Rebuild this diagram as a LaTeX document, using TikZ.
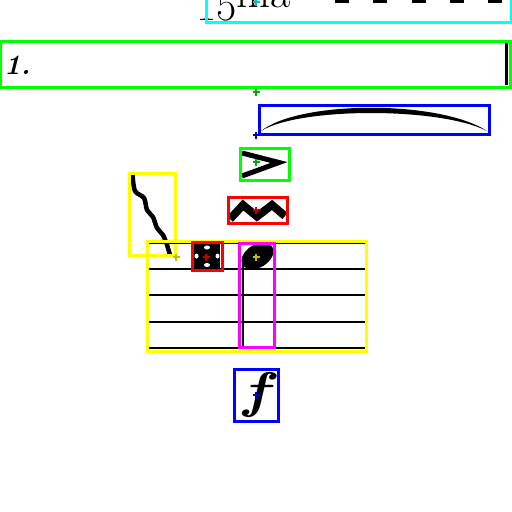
\documentclass[tikz,border=0pt]{standalone}
\usetikzlibrary{positioning}
\definecolor{boxgreen}{RGB}{0,255,0}
\definecolor{boxblue}{RGB}{0,0,255}
\definecolor{boxred}{RGB}{255,0,0}
\definecolor{boxyellow}{RGB}{255,255,0}
\definecolor{boxmagenta}{RGB}{255,0,255}
\definecolor{boxcyan}{RGB}{0,255,255}
\definecolor{mkgreen}{RGB}{0,170,0}
\definecolor{mkblue}{RGB}{0,0,200}
\definecolor{mkred}{RGB}{200,0,0}
\definecolor{mkyellow}{RGB}{190,190,0}
\definecolor{mkcyan}{RGB}{0,190,190}
\begin{document}
\begin{tikzpicture}[
    x=1pt, y=-1pt,
    box/.style={draw, line width=3pt},
    staffline/.style={line width=2.4pt},
    plus/.pic={\draw[line width=1.7pt] (-3.5,0) -- (3.5,0) (0,-3.5) -- (0,3.5);}
]
    \useasboundingbox (0,0) rectangle (512,512);
    \clip (0,0) rectangle (512,512);

    % Ottava text
    \node [anchor=base west, inner sep=0pt] (ottava) at (196,20) {\fontsize{44}{44}\selectfont 15\raisebox{13pt}{ma}};
    \foreach \x in {335,373,412,450,488}
        \draw [line width=2.2pt] (\x,1.5) -- ++(14,0);
    \draw [box, boxcyan] (206,-10) rectangle (511,22);

    % Volta bracket
    \draw [line width=2pt] (0,42) -- (506,42);
    \draw [line width=3pt] (506,41) -- (506,85);
    \node [anchor=base west, inner sep=0pt] (volta) at (4,74.5) {\fontsize{28}{28}\selectfont\bfseries\itshape 1.};
    \draw [box, boxgreen] (0,41) rectangle (510,87);

    % Slur
    \fill (261,131) .. controls (300,100) and (440,100) .. (487,131)
                    .. controls (440,107) and (300,107) .. (261,131);
    \draw [box, boxblue] (259,105) rectangle (489,134);

    % Accent
    \draw [line width=5pt, miter limit=4] (242,153) -- (279,162.5) -- (242,176);
    \draw [box, boxgreen] (240,148) rectangle (289,180);

    % Ornament
    \draw [line width=8pt, miter limit=10] (230,219) -- (243,205) -- (257,216.5) -- (272,205) -- (285,216);
    \draw [box, boxred] (228,197) rectangle (287,223);

    % Arpeggio
    \draw [line width=4.5pt] plot [smooth] coordinates {(132.5,175) (135,191) (144,198) (147,210) (153,217) (157,228) (163,235) (167,245) (170,255)};
    \draw [box, boxyellow] (129,173) rectangle (175,255);

    % Staff
    \foreach \y in {243,269,295,322,348}
        \draw [staffline] (148,\y) -- (365,\y);
    \draw [box, boxyellow] (147,241) rectangle (366,351);

    % Square note
    \fill (194,244) rectangle (220,268);
    \fill [white] (207,247.5) ellipse (3 and 2) (207,265) ellipse (3 and 2)
                  (196.5,256) ellipse (2 and 2.5) (217.5,256) ellipse (2 and 2.5);
    \draw [box, boxred] (192,242) rectangle (222,270);

    % Note
    \begin{scope}
        \clip (241,243) rectangle (273,270);
        \fill [rotate around={32:(257.5,256)}] (257.5,256) ellipse (17.5 and 11.5);
    \end{scope}
    \draw [line width=2pt] (243,259) -- (243,347);
    \draw [box, boxmagenta] (239,243) rectangle (274,347);

    % Dynamic
    \node [inner sep=0pt, xscale=1.25] (dynamic) at (256,395) {\fontsize{50}{50}\selectfont\bfseries\itshape f};
    \draw [box, boxblue] (234,369) rectangle (278,421);

    % Markers
    \pic [mkcyan] at (256,2) {plus};
    \pic [mkgreen] at (256,92) {plus};
    \pic [mkblue] at (256,135) {plus};
    \pic [mkgreen] at (256,162) {plus};
    \pic [mkred] at (256,210) {plus};
    \pic [mkyellow] at (176,257) {plus};
    \pic [mkred] at (206,257) {plus};
    \pic [mkyellow] at (256,257) {plus};
    \pic [mkblue] at (256,395) {plus};
\end{tikzpicture}
\end{document}
